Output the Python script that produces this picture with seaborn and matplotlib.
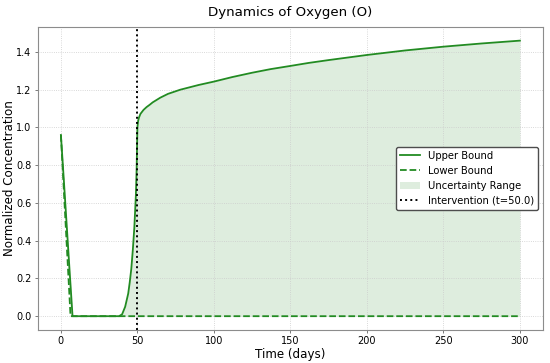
import numpy as np
import pandas as pd
import seaborn as sns
from matplotlib import pyplot as plt

# values
time_days = [0, 2, 4, 6, 6.3, 7.6, 10, 20, 30, 38, 40, 42, 44, 45, 46, 47, 48,
             49, 49.5, 50, 50.5, 51, 52, 54, 56, 58, 60, 65, 70, 78, 90, 100,
             112, 125, 137, 150, 162, 175, 200, 225, 250, 275, 300]
upper_bound = [0.96, 0.71, 0.455, 0.20, 0.164, 0.0, 0.0, 0.0, 0.0, 0.0, 0.01,
               0.05, 0.12, 0.18, 0.25, 0.35, 0.47, 0.64, 0.78, 1.0, 1.035,
               1.052, 1.072, 1.093, 1.108, 1.12, 1.133, 1.158, 1.178, 1.20,
               1.225, 1.243, 1.267, 1.29, 1.309, 1.326, 1.342, 1.357, 1.384,
               1.408, 1.428, 1.445, 1.46]
lower_bound = [0.96, 0.655, 0.35, 0.046, 0.0] + [0.0] * 38
intervention_t = 50.0

df = pd.DataFrame({"time": time_days, "upper": upper_bound, "lower": lower_bound})

fig, ax = plt.subplots(figsize=(5.5, 3.63), dpi=100)
sns.lineplot(data=df, x="time", y="upper", ax=ax, color="forestgreen",
             linewidth=1.3, label="Upper Bound")
sns.lineplot(data=df, x="time", y="lower", ax=ax, color="forestgreen",
             linewidth=1.3, linestyle="--", label="Lower Bound")
ax.fill_between(df["time"], df["lower"], df["upper"], color="forestgreen",
                alpha=0.15, linewidth=0, label="Uncertainty Range")
ax.axvline(intervention_t, color="black", linestyle=":", linewidth=1.4,
           label=f"Intervention (t={intervention_t})")

ax.grid(True, linestyle=":", color="0.8", linewidth=0.6)
for spine in ax.spines.values():
    spine.set_color("0.55")
    spine.set_linewidth(0.8)
ax.tick_params(labelsize=7, length=2.5, width=0.6, color="0.4", pad=2)
ax.set_xlabel("Time (days)", fontsize=8.6, labelpad=1)
ax.set_ylabel("Normalized Concentration", fontsize=8.6, labelpad=0)
ax.set_title("Dynamics of Oxygen (O)", fontsize=9.6, pad=8)
ax.legend(loc="center right", fontsize=7.2, framealpha=1, edgecolor="0.3",
          fancybox=True)

plt.subplots_adjust(left=0.069, right=0.987, top=0.926, bottom=0.091)
plt.savefig("out.png", dpi=100)
